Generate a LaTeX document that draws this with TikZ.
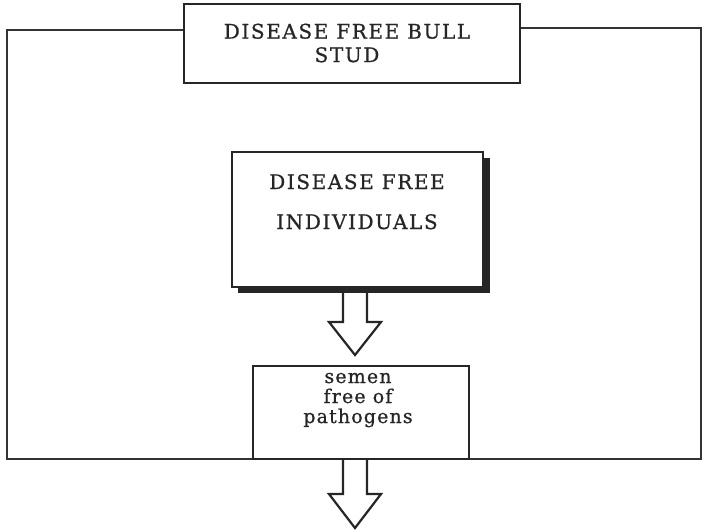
\documentclass[tikz,border=0pt]{standalone}
\usepackage{fontspec}
\setmainfont{DejaVu Serif}
\newfontfamily\capsfont[LetterSpace=8,FakeBold=0.8]{DejaVu Serif}
\newfontfamily\smallfont[LetterSpace=6,FakeBold=0.8]{DejaVu Serif}
\begin{document}
\begin{tikzpicture}[x=1pt,y=-1pt,
  frame/.style={draw=black!80,line width=2.4pt},
  boxs/.style={draw=black!85,line width=1.8pt,fill=white},
  capstxt/.style={font=\capsfont\fontsize{20}{23.5}\selectfont,inner sep=0pt,text=black!85},
  semtxt/.style={font=\smallfont\fontsize{19}{20}\selectfont,anchor=base,inner sep=0pt,text=black!85},
  fatarrow/.style={draw=black!85,line width=2.2pt,fill=white,line join=miter}]
\useasboundingbox (0,0) rectangle (704,531);
% outer frame
\draw[frame] (183,30) -- (7,30) -- (7,459) -- (701,459) -- (701,28) -- (519,28);
% top box
\node[boxs,minimum width=336pt,minimum height=79pt,anchor=north west,inner sep=0pt] (stud) at (183,3) {};
\node[capstxt,align=center] (studtxt) at (347,43) {DISEASE FREE BULL\\STUD};
% individuals box with shadow
\fill[black!85] (238,158) rectangle (490,293);
\node[boxs,minimum width=251pt,minimum height=135pt,anchor=north west,inner sep=0pt] (ind) at (231,151) {};
\node[capstxt,anchor=base] (ind1) at (357,189) {DISEASE FREE};
\node[capstxt,anchor=base] (ind2) at (357,229) {INDIVIDUALS};
% semen box
\node[boxs,minimum width=216pt,minimum height=93pt,anchor=north west,inner sep=0pt] (semen) at (252,365) {};
\node[semtxt] (sem1) at (358,383) {semen};
\node[semtxt] (sem2) at (358,403) {free of};
\node[semtxt] (sem3) at (358,423) {pathogens};
% arrows
\draw[fatarrow] (343,293) -- (343,322) -- (329,322) -- (355,355) -- (381,322) -- (367,322) -- (367,293);
\draw[fatarrow] (343,460) -- (343,494) -- (329,494) -- (355,528) -- (381,494) -- (367,494) -- (367,460);
\end{tikzpicture}
\end{document}
